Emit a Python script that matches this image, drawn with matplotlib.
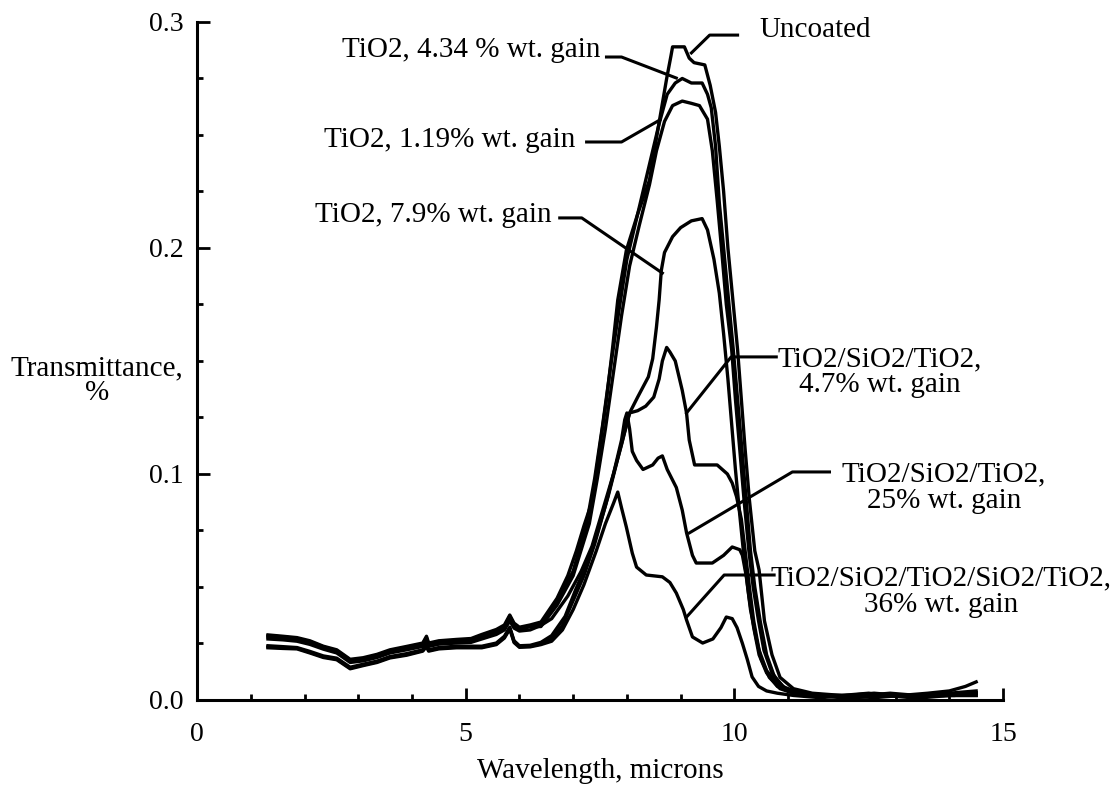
import numpy as np
import matplotlib
matplotlib.use("Agg")
import matplotlib.pyplot as plt
from matplotlib.ticker import MultipleLocator

plt.rcParams['font.family'] = ['Liberation Serif', 'DejaVu Serif']

# shared wavelength grid for the flat part of every scan (microns)
base_x = [1.32, 1.6, 1.86, 2.1, 2.35, 2.6, 2.85, 3.09, 3.35, 3.59, 3.9, 4.2,
          4.27, 4.31, 4.5, 4.83, 5.1, 5.3, 5.57, 5.72, 5.82, 5.9, 6.0, 6.2]

# uncoated
unc_base = [0.0288, 0.0282, 0.0276, 0.0262, 0.0238, 0.0222, 0.0180, 0.0187, 0.0202, 0.0222, 0.0237, 0.0252,
            0.0282, 0.0252, 0.0262, 0.0268, 0.0272, 0.0290, 0.0312, 0.0332, 0.0376, 0.0340, 0.0322, 0.0332]
unc_x = [6.4, 6.7, 6.9, 7.06, 7.2, 7.36, 7.49, 7.62, 7.73, 7.83, 7.99, 8.2, 8.42, 8.51, 8.61, 8.74, 8.82, 8.85,
         9.07, 9.16, 9.25, 9.45, 9.55, 9.65, 9.72, 9.8, 9.88, 9.98, 10.06, 10.13, 10.2, 10.28, 10.38, 10.46,
         10.56, 10.7, 10.85, 11.1, 11.45, 12.0, 12.5, 12.7, 13.0, 13.5, 14.0, 14.5]
unc_y = [0.0345, 0.045, 0.055, 0.066, 0.077, 0.0885, 0.111, 0.133, 0.155, 0.177, 0.199, 0.215, 0.230, 0.243,
         0.257, 0.275, 0.285, 0.289, 0.289, 0.284, 0.282, 0.281, 0.272, 0.26, 0.245, 0.225, 0.2, 0.175, 0.155,
         0.133, 0.111, 0.0885, 0.066, 0.0575, 0.035, 0.02, 0.01, 0.005, 0.003, 0.002, 0.003, 0.002, 0.002,
         0.002, 0.003, 0.004]

# TiO2, 4.34 %
t434_base = [0.0284, 0.0279, 0.0272, 0.0258, 0.0235, 0.0218, 0.0176, 0.0183, 0.0198, 0.0218, 0.0233, 0.0248,
             0.0276, 0.0248, 0.0258, 0.0264, 0.0268, 0.0285, 0.0306, 0.0326, 0.0370, 0.0334, 0.0318, 0.0328]
t434_x = [6.4, 6.7, 7.0, 7.25, 7.4, 7.55, 7.7, 7.85, 8.0, 8.2, 8.4, 8.6, 8.75, 8.9, 9.03, 9.2, 9.4, 9.5, 9.57,
          9.65, 9.72, 9.8, 9.9, 9.98, 10.06, 10.14, 10.22, 10.3, 10.38, 10.48, 10.6, 10.75, 10.95, 11.3, 11.8,
          12.4, 12.9, 13.4, 13.9, 14.3, 14.5]
t434_y = [0.0335, 0.044, 0.057, 0.078, 0.098, 0.122, 0.148, 0.172, 0.195, 0.215, 0.235, 0.255, 0.268, 0.273,
          0.275, 0.273, 0.273, 0.268, 0.262, 0.245, 0.22, 0.2, 0.175, 0.155, 0.133, 0.111, 0.0885, 0.066, 0.05,
          0.035, 0.02, 0.01, 0.005, 0.003, 0.002, 0.002, 0.003, 0.002, 0.002, 0.003, 0.003]

# TiO2, 1.19 %
t119_base = [0.0278, 0.0274, 0.0268, 0.0254, 0.0231, 0.0214, 0.0172, 0.0179, 0.0194, 0.0214, 0.0229, 0.0244,
             0.0270, 0.0244, 0.0254, 0.0260, 0.0264, 0.0280, 0.0300, 0.0320, 0.0362, 0.0328, 0.0314, 0.0324]
t119_x = [6.4, 6.7, 7.0, 7.3, 7.45, 7.6, 7.75, 7.9, 8.05, 8.23, 8.42, 8.55, 8.7, 8.85, 9.03, 9.2, 9.35, 9.5,
          9.59, 9.68, 9.76, 9.85, 9.95, 10.02, 10.1, 10.18, 10.27, 10.35, 10.45, 10.55, 10.7, 10.9, 11.2, 11.7,
          12.2, 12.8, 13.3, 13.8, 14.2, 14.5]
t119_y = [0.0325, 0.042, 0.055, 0.078, 0.098, 0.12, 0.145, 0.17, 0.192, 0.21, 0.228, 0.243, 0.256, 0.263,
          0.265, 0.264, 0.263, 0.257, 0.243, 0.221, 0.2, 0.175, 0.155, 0.133, 0.111, 0.0885, 0.066, 0.05, 0.035,
          0.022, 0.012, 0.006, 0.003, 0.002, 0.001, 0.002, 0.001, 0.002, 0.002, 0.002]

# TiO2, 7.9 %
t79_base = [0.0270, 0.0266, 0.0260, 0.0246, 0.0225, 0.0208, 0.0166, 0.0173, 0.0188, 0.0208, 0.0222, 0.0237,
            0.0262, 0.0237, 0.0247, 0.0252, 0.0255, 0.0270, 0.0290, 0.0310, 0.0350, 0.0318, 0.0305, 0.0310]
t79_x = [6.4, 6.6, 6.9, 7.15, 7.35, 7.55, 7.75, 7.9, 8.05, 8.2, 8.4, 8.48, 8.55, 8.6, 8.64, 8.7, 8.85, 9.0, 9.2,
         9.4, 9.5, 9.62, 9.72, 9.8, 9.88, 9.95, 10.02, 10.1, 10.18, 10.27, 10.36, 10.46, 10.6, 10.8, 11.1, 11.6,
         12.1, 12.6, 13.1, 13.6, 14.1, 14.5]
t79_y = [0.033, 0.036, 0.046, 0.057, 0.068, 0.084, 0.1, 0.113, 0.127, 0.134, 0.143, 0.151, 0.165, 0.177, 0.19,
         0.198, 0.205, 0.209, 0.212, 0.213, 0.208, 0.195, 0.18, 0.162, 0.142, 0.122, 0.102, 0.082, 0.063, 0.046,
         0.032, 0.02, 0.012, 0.006, 0.003, 0.002, 0.002, 0.003, 0.002, 0.002, 0.002, 0.003]

# TiO2/SiO2/TiO2, 4.7 %
t47_base = [0.0240, 0.0236, 0.0232, 0.0215, 0.0195, 0.0185, 0.0145, 0.0158, 0.0172, 0.0192, 0.0205, 0.0222,
            0.0245, 0.0222, 0.0232, 0.0238, 0.0238, 0.0238, 0.0252, 0.0282, 0.0322, 0.0262, 0.0240, 0.0242]
t47_x = [6.4, 6.6, 6.85, 7.05, 7.25, 7.45, 7.65, 7.8, 7.95, 8.05, 8.2, 8.35, 8.5, 8.6, 8.66, 8.74, 8.8, 8.9,
         9.03, 9.11, 9.16, 9.26, 9.5, 9.68, 9.87, 9.96, 10.04, 10.13, 10.2, 10.28, 10.36, 10.46, 10.6, 10.8,
         11.0, 11.5, 12.0, 12.5, 13.0, 13.5, 14.0, 14.5]
t47_y = [0.0255, 0.0285, 0.037, 0.049, 0.06, 0.074, 0.09, 0.104, 0.118, 0.127, 0.128, 0.130, 0.134, 0.142,
         0.150, 0.156, 0.154, 0.150, 0.137, 0.127, 0.115, 0.104, 0.104, 0.104, 0.100, 0.096, 0.090, 0.080,
         0.066, 0.05, 0.035, 0.022, 0.013, 0.007, 0.004, 0.002, 0.001, 0.002, 0.002, 0.001, 0.002, 0.003]

# TiO2/SiO2/TiO2, 25 %
t25_base = [0.0235, 0.0231, 0.0229, 0.0211, 0.0191, 0.0181, 0.0141, 0.0155, 0.0169, 0.0189, 0.0201, 0.0219,
            0.0240, 0.0219, 0.0229, 0.0234, 0.0234, 0.0234, 0.0248, 0.0278, 0.0318, 0.0258, 0.0236, 0.0238]
t25_x = [6.4, 6.6, 6.8, 7.0, 7.2, 7.4, 7.6, 7.75, 7.9, 7.96, 8.0, 8.05, 8.1, 8.18, 8.3, 8.48, 8.58, 8.66, 8.75,
         8.92, 9.03, 9.11, 9.22, 9.29, 9.45, 9.59, 9.8, 9.96, 10.1, 10.15, 10.22, 10.3, 10.4, 10.5, 10.65, 10.85,
         11.1, 11.6, 12.2, 12.8, 13.4, 14.0, 14.5]
t25_y = [0.0248, 0.027, 0.033, 0.044, 0.055, 0.069, 0.086, 0.1, 0.115, 0.124, 0.127, 0.120, 0.110, 0.106,
         0.102, 0.104, 0.107, 0.108, 0.102, 0.094, 0.084, 0.074, 0.064, 0.0606, 0.0606, 0.0606, 0.064, 0.0677,
         0.0665, 0.064, 0.055, 0.04, 0.028, 0.018, 0.01, 0.005, 0.003, 0.002, 0.001, 0.002, 0.002, 0.002, 0.002]

# TiO2/SiO2/TiO2/SiO2/TiO2, 36 %
t36_base = [0.0231, 0.0228, 0.0226, 0.0208, 0.0188, 0.0178, 0.0138, 0.0152, 0.0166, 0.0186, 0.0198, 0.0216,
            0.0236, 0.0216, 0.0226, 0.0231, 0.0231, 0.0231, 0.0245, 0.0274, 0.0314, 0.0254, 0.0233, 0.0235]
t36_x = [6.4, 6.6, 6.8, 7.0, 7.2, 7.43, 7.6, 7.75, 7.83, 7.9, 7.99, 8.1, 8.18, 8.36, 8.66, 8.8, 8.92, 9.05,
         9.11, 9.22, 9.41, 9.6, 9.75, 9.85, 9.96, 10.05, 10.15, 10.24, 10.33, 10.45, 10.6, 10.8, 11.1, 11.6,
         12.1, 12.6, 13.1, 13.6, 14.0, 14.3, 14.5]
t36_y = [0.0245, 0.026, 0.031, 0.04, 0.051, 0.066, 0.078, 0.087, 0.092, 0.085, 0.0765, 0.065, 0.0588, 0.0553,
         0.0545, 0.052, 0.0473, 0.04, 0.0354, 0.0279, 0.0252, 0.027, 0.032, 0.0367, 0.036, 0.032, 0.025, 0.018,
         0.0102, 0.006, 0.004, 0.003, 0.002, 0.001, 0.002, 0.001, 0.002, 0.003, 0.004, 0.006, 0.008]

curves = [
    (unc_base, unc_x, unc_y),
    (t434_base, t434_x, t434_y),
    (t119_base, t119_x, t119_y),
    (t79_base, t79_x, t79_y),
    (t47_base, t47_x, t47_y),
    (t25_base, t25_x, t25_y),
    (t36_base, t36_x, t36_y),
]

fig = plt.figure(figsize=(11.12, 7.85), dpi=100)
ax = fig.add_axes([0.1772, 0.1083, 0.7248, 0.8637])

for b, px, py in curves:
    ax.plot(base_x + px, b + py, color='black', lw=2.4, solid_joinstyle='round')

ax.set_xlim(0, 15)
ax.set_ylim(0, 0.3)
ax.spines['top'].set_visible(False)
ax.spines['right'].set_visible(False)
ax.spines['left'].set_linewidth(2.2)
ax.spines['bottom'].set_linewidth(2.2)

ax.xaxis.set_major_locator(MultipleLocator(5))
ax.xaxis.set_minor_locator(MultipleLocator(1))
ax.yaxis.set_major_locator(MultipleLocator(0.1))
ax.yaxis.set_minor_locator(MultipleLocator(0.025))
ax.tick_params(which='both', direction='in', width=2, labelsize=20, pad=10)
ax.tick_params(axis='x', which='major', pad=16)
ax.tick_params(which='major', length=9)
ax.tick_params(which='minor', length=4)
ax.xaxis.set_major_formatter(plt.FuncFormatter(lambda v, p: '%d' % v))
ax.yaxis.set_major_formatter(plt.FuncFormatter(lambda v, p: '%.1f' % v))

fs = 21
ax.set_xlabel('Wavelength, microns', fontsize=fs, labelpad=8)
fig.text(0.087, 0.515, 'Transmittance,\n%', fontsize=fs, ha='center', va='center', linespacing=0.95)

# labels with leader lines
ax.text(10.46, 0.2965, 'Uncoated', fontsize=fs, ha='left', va='center')
ax.plot([10.06, 9.54, 9.20], [0.2942, 0.2942, 0.2863], color='black', lw=2.2, clip_on=False)

ax.text(7.5, 0.2876, 'TiO2, 4.34 % wt. gain', fontsize=fs, ha='right', va='center')
ax.plot([7.62, 7.90, 8.92], [0.2845, 0.2845, 0.2752], color='black', lw=2.2)

ax.text(7.05, 0.2478, 'TiO2, 1.19% wt. gain', fontsize=fs, ha='right', va='center')
ax.plot([7.25, 7.90, 8.61], [0.2469, 0.2469, 0.2566], color='black', lw=2.2)

ax.text(6.6, 0.2146, 'TiO2, 7.9% wt. gain', fontsize=fs, ha='right', va='center')
ax.plot([6.75, 7.16, 8.66], [0.2133, 0.2133, 0.1889], color='black', lw=2.2)

ax.text(12.7, 0.145, 'TiO2/SiO2/TiO2,\n4.7% wt. gain', fontsize=fs, ha='center', va='center',
        linespacing=1.0, multialignment='center')
ax.plot([10.78, 9.94, 9.11], [0.1518, 0.1518, 0.1270], color='black', lw=2.2)

ax.text(13.9, 0.094, 'TiO2/SiO2/TiO2,\n25% wt. gain', fontsize=fs, ha='center', va='center',
        linespacing=1.0, multialignment='center', clip_on=False)
ax.plot([11.77, 11.08, 9.16], [0.1009, 0.1009, 0.0739], color='black', lw=2.2)

ax.text(13.85, 0.048, 'TiO2/SiO2/TiO2/SiO2/TiO2,\n36% wt. gain', fontsize=fs, ha='center', va='center',
        linespacing=1.0, multialignment='center', clip_on=False)
ax.plot([10.74, 9.81, 9.11], [0.0553, 0.0553, 0.0367], color='black', lw=2.2)

fig.savefig('out.png', dpi=100)
